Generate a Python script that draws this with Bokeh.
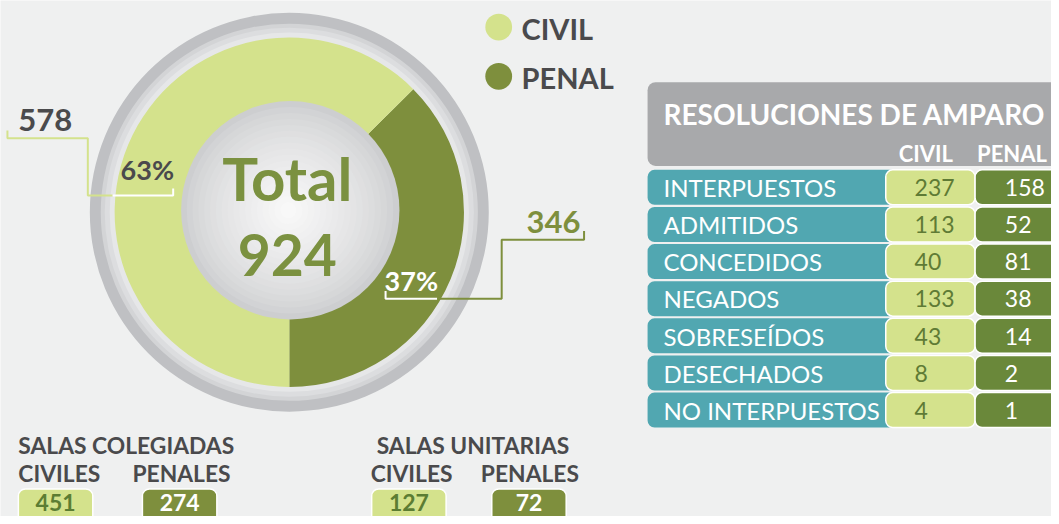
import numpy as np
from bokeh.plotting import figure
from bokeh.models import Range1d, BoxAnnotation, ColumnDataSource
from bokeh.embed import file_html
from bokeh.resources import INLINE
from bokeh.core.properties import value

# ---------------- data ----------------
categories = ["CIVIL", "PENAL"]
totals = [578, 346]
table_title = "RESOLUCIONES DE AMPARO"
table_rows = ["INTERPUESTOS", "ADMITIDOS", "CONCEDIDOS", "NEGADOS",
              "SOBRESEÍDOS", "DESECHADOS", "NO INTERPUESTOS"]
table_civil = [237, 113, 40, 133, 43, 8, 4]
table_penal = [158, 52, 81, 38, 14, 2, 1]
salas_groups = ["SALAS COLEGIADAS", "SALAS UNITARIAS"]
salas_sub = ["CIVILES", "PENALES"]
salas_civil = [451, 127]
salas_penal = [274, 72]

# ---------------- style ----------------
BG = "#eff0f0"
LG = "#d4e28c"
OL = "#7e8f3d"
OL_T = "#7b9140"
TXT = "#4a4a4c"
TEAL = "#51a7b1"
HDR = "#a8a9ab"
TPEN = "#6a883a"
CIVTXT = "#5f7b35"
FONT = value("Lato")

H = 524


def Y(ys):
    return H - ys


p = figure(width=1051, height=516, x_range=Range1d(0, 1059), y_range=Range1d(0, 524),
           output_backend="svg", toolbar_location=None, min_border=0,
           x_axis_type=None, y_axis_type=None)
p.grid.visible = False
p.outline_line_color = None
p.background_fill_color = BG
p.border_fill_color = BG


def txt(x, ys, s, size, color, bold=True, align="left"):
    p.text(x=[x], y=[Y(ys)], text=[s], text_font=FONT, text_font_size=f"{size}px",
           text_font_style="bold" if bold else "normal", text_color=color,
           text_align=align, text_baseline="middle")


def box(l, r, t, b, color, radius=7, line_color=None, lw=0):
    p.add_layout(BoxAnnotation(left=l, right=r, top=Y(t), bottom=Y(b), fill_color=color,
                               fill_alpha=1.0, line_color=line_color, line_width=lw,
                               line_alpha=1.0 if line_color else 0.0,
                               border_radius=radius, level="underlay"))


# ---------------- donut ----------------
CX, CY = 291, Y(215)
p.circle(x=[CX], y=[CY], radius=201, fill_color="#bfc0c3", line_color=None)
p.circle(x=[CX], y=[CY], radius=190, fill_color="#d3d4d6", line_color=None)
p.circle(x=[CX], y=[CY], radius=186, fill_color="#dcdddf", line_color=None)
p.circle(x=[CX], y=[CY], radius=181, fill_color="#e6e7e8", line_color=None)

total = sum(totals)
fracs = [t / total for t in totals]
# penal starts at bottom and runs counter-clockwise; civil fills the rest
order = [1, 0]
starts, ends, cols = [], [], []
a = -np.pi / 2
for i in order:
    starts.append(a)
    a += 2 * np.pi * fracs[i]
    ends.append(a)
    cols.append(LG if i == 0 else OL)
wsrc = ColumnDataSource(dict(start=starts, end=ends, color=cols))
p.wedge(x=CX, y=CY, radius=176, start_angle="start", end_angle="end",
        fill_color="color", line_color=None, source=wsrc)

# inner sphere with radial shading
ICX, ICY = 292, Y(213)
radii = np.linspace(110, 8, 18)
c0 = np.array([0xcd, 0xce, 0xd0])
c1 = np.array([0xf8, 0xf8, 0xf8])
for k, r in enumerate(radii):
    t = (k / (len(radii) - 1)) ** 0.7
    c = (c0 + (c1 - c0) * t).astype(int)
    p.circle(x=[ICX - 2 * t], y=[ICY], radius=r, fill_color="#%02x%02x%02x" % tuple(c),
             line_color=None)

txt(289, 180, "Total", 60, OL_T, align="center")
txt(289, 258, f"{total}", 57, OL_T, align="center")

# leader lines
p.line(x=[7, 7, 88, 88, 113], y=[Y(132), Y(140), Y(140), Y(198), Y(198)],
       line_color=LG, line_width=2)
p.line(x=[113, 174, 174], y=[Y(198), Y(198), Y(191)], line_color="white", line_width=2)
p.line(x=[388, 388, 440], y=[Y(295), Y(303), Y(303)], line_color="white", line_width=2)
p.line(x=[440, 505, 505, 588, 588], y=[Y(303), Y(303), Y(243), Y(243), Y(234)],
       line_color=OL, line_width=2)

txt(18, 121, f"{totals[0]}", 31, TXT)
txt(121, 172, f"{round(100 * fracs[0])}%", 27, TXT)
txt(387, 284, f"{round(100 * fracs[1])}%", 27, "white")
txt(530, 225, f"{totals[1]}", 31, OL)

# legend
p.circle(x=[502, 502], y=[Y(27), Y(77)], radius=13.5, fill_color=[LG, OL], line_color=None)
txt(525, 28, categories[0], 29, TXT)
txt(525, 78, categories[1], 29, TXT)

# ---------------- table ----------------
box(652, 1090, 83, 168, HDR, radius=8)
txt(668, 115, table_title, 28, "white")
txt(905, 155, categories[0], 22, "white")
txt(984, 155, categories[1], 22, "white")

for i, (lab, cv, pv) in enumerate(zip(table_rows, table_civil, table_penal)):
    top = 172 + 37.7 * i
    bot = top + 35.5
    mid = top + 18
    box(652, 905, top, bot, TEAL, radius=7)
    box(892, 982, top, bot, LG, radius=7, line_color="white", lw=1.5)
    box(982, 1090, top, bot, TPEN, radius=7, line_color="white", lw=1.5)
    txt(668, mid, lab, 24, "white", bold=False)
    txt(921, mid, f"{cv}", 23, CIVTXT, bold=False)
    txt(1012, mid, f"{pv}", 23, "white", bold=False)

# ---------------- salas ----------------
groups_x = [18, 379]
sub_x = [(18, 133), (373, 484)]
box_x = [((18, 93), (143, 218)), ((374, 449), (495, 570))]
for g in range(2):
    txt(groups_x[g], 451, salas_groups[g], 22.8, TXT)
    txt(sub_x[g][0], 480, salas_sub[0], 22.8, TXT)
    txt(sub_x[g][1], 480, salas_sub[1], 22.8, TXT)
    (cl, cr), (pl, pr) = box_x[g]
    box(cl, cr, 496, 540, LG, radius=7, line_color="white", lw=1.5)
    box(pl, pr, 496, 540, OL, radius=7, line_color="white", lw=1.5)
    txt((cl + cr) / 2, 510, f"{salas_civil[g]}", 23, "#5c7d33", align="center")
    txt((pl + pr) / 2, 510, f"{salas_penal[g]}", 23, "white", align="center")

open("out.html", "w").write(file_html(p, INLINE))
